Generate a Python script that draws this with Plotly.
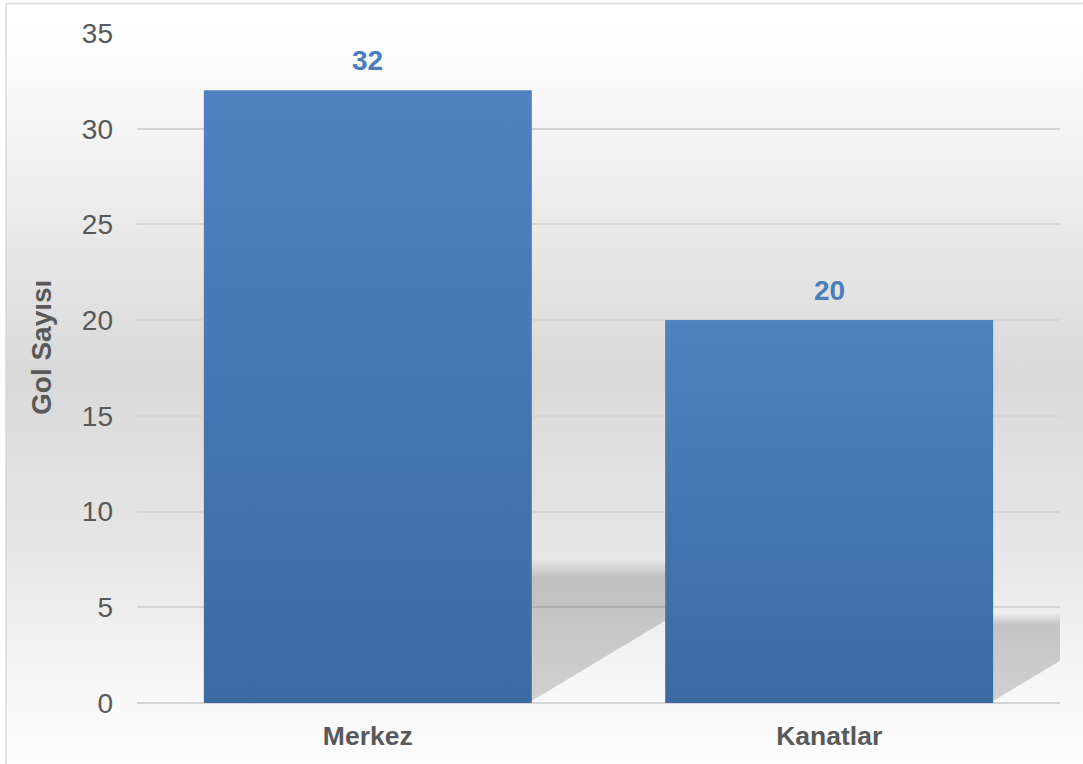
import base64
import plotly.graph_objects as go

# ---- data ----
categories = ["Merkez", "Kanatlar"]
goals = [32, 20]
y_ticks = [0, 5, 10, 15, 20, 25, 30, 35]
y_title = "Gol Sayısı"

# ---- style constants ----
W, H = 1083, 764
BAR_W = 0.71
FONT = "Liberation Sans, Arial, sans-serif"
TXT = "#595959"
GRID = "#d6d6d6"
LABEL = "#4a7ebb"

x_pos = list(range(len(categories)))

fig = go.Figure()

# bars
fig.add_trace(go.Bar(
    x=x_pos, y=goals, width=BAR_W,
    marker=dict(color="#4577b2", line=dict(width=0)),
    hoverinfo="skip",
))

# soft drop shadows to the right of each bar (derived from bar geometry)
SH_RATIO = 0.235   # shadow height relative to bar value
SH_BOTTOM = 0.1
SH_SLOPE = 14.5    # data units of y per category unit of x
for i, v in enumerate(goals):
    r = x_pos[i] + BAR_W / 2
    limit = (x_pos[i + 1] - BAR_W / 2) if i + 1 < len(goals) else x_pos[-1] + 0.5
    top = SH_RATIO * v
    x_end = r + (top - SH_BOTTOM) / SH_SLOPE
    if x_end > limit:
        xs = [r, r, limit, limit, r]
        ys = [SH_BOTTOM, top, top, SH_BOTTOM + SH_SLOPE * (limit - r), SH_BOTTOM]
    else:
        xs = [r, r, x_end, r]
        ys = [SH_BOTTOM, top, top, SH_BOTTOM]
    fig.add_trace(go.Scatter(
        x=xs, y=ys, mode="lines", line=dict(width=0), fill="toself",
        fillgradient=dict(type="vertical", colorscale=[
            [0, "rgba(0,0,0,0.16)"], [0.87, "rgba(0,0,0,0.18)"], [1, "rgba(0,0,0,0.0)"]]),
        hoverinfo="skip",
    ))

# vertical gradient overlay on each bar
for i, v in enumerate(goals):
    x0, x1 = x_pos[i] - BAR_W / 2, x_pos[i] + BAR_W / 2
    fig.add_trace(go.Scatter(
        x=[x0, x0, x1, x1, x0], y=[0, v, v, 0, 0], mode="lines",
        line=dict(width=0), fill="toself",
        fillgradient=dict(type="vertical", colorscale=[[0, "#3c6aa3"], [1, "#4f82bf"]]),
        hoverinfo="skip",
    ))

# value labels
for i, v in enumerate(goals):
    fig.add_annotation(
        x=x_pos[i], y=v, text=str(v), showarrow=False, yanchor="bottom", yshift=12,
        font=dict(family=FONT, size=28, color=LABEL, weight="bold"),
    )

# y axis title
fig.add_annotation(
    xref="paper", yref="paper", x=41 / W, y=1 - 348 / H, text=y_title,
    textangle=-90, showarrow=False, xanchor="center", yanchor="middle",
    font=dict(family=FONT, size=28, color=TXT, weight="bold"),
)

# background gradient (decorative)
stops = [(0, "#ffffff"), (0.08, "#fcfcfc"), (0.485, "#d9d9d9"),
         (0.707, "#e6e6e6"), (0.92, "#f9f9f9"), (1, "#fdfdfd")]
stop_xml = "".join(f'<stop offset="{o}" stop-color="{c}"/>' for o, c in stops)
svg = (f'<svg xmlns="http://www.w3.org/2000/svg" width="{W}" height="{H}" '
       f'preserveAspectRatio="none" viewBox="0 0 {W} {H}"><defs>'
       f'<linearGradient id="g" x1="0" y1="0" x2="0" y2="1">{stop_xml}</linearGradient>'
       f'</defs><rect x="0" y="0" width="{W}" height="{H}" fill="url(#g)"/></svg>')
src = "data:image/svg+xml;base64," + base64.b64encode(svg.encode()).decode()
fig.add_layout_image(dict(
    source=src, xref="paper", yref="paper", x=6 / W, y=1 - 4 / H,
    sizex=1, sizey=1, sizing="stretch", xanchor="left", yanchor="top", layer="below",
))

# outer frame
fig.add_shape(type="rect", xref="paper", yref="paper",
              x0=6 / W, x1=1.02, y0=-0.02, y1=1 - 3.5 / H,
              line=dict(color="#d9d9d9", width=1.5), layer="above")

fig.update_layout(
    template="none",
    width=W, height=H,
    margin=dict(l=0, r=0, t=0, b=0, pad=0),
    paper_bgcolor="#ffffff", plot_bgcolor="rgba(0,0,0,0)",
    showlegend=False,
    font=dict(family=FONT, color=TXT),
    xaxis=dict(
        domain=[137 / W, 1060 / W], range=[-0.5, 1.5],
        tickvals=x_pos, ticktext=categories,
        showgrid=False, zeroline=False, showline=False, ticks="",
        tickfont=dict(family=FONT, size=26.5, color=TXT, weight="bold"),
        ticklabelstandoff=14, automargin=False, fixedrange=True,
    ),
    yaxis=dict(
        domain=[61 / H, 731 / H], range=[0, 35],
        tickvals=y_ticks, showgrid=True, gridcolor=GRID, gridwidth=2,
        zeroline=True, zerolinecolor=GRID, zerolinewidth=2,
        showline=False, ticks="",
        tickfont=dict(family=FONT, size=28, color=TXT),
        ticklabelstandoff=23, automargin=False, fixedrange=True,
    ),
)

fig.write_html(
    "out.html",
    config={"displayModeBar": False},
    post_script="document.body.style.margin='0';document.body.style.overflow='hidden';",
)
